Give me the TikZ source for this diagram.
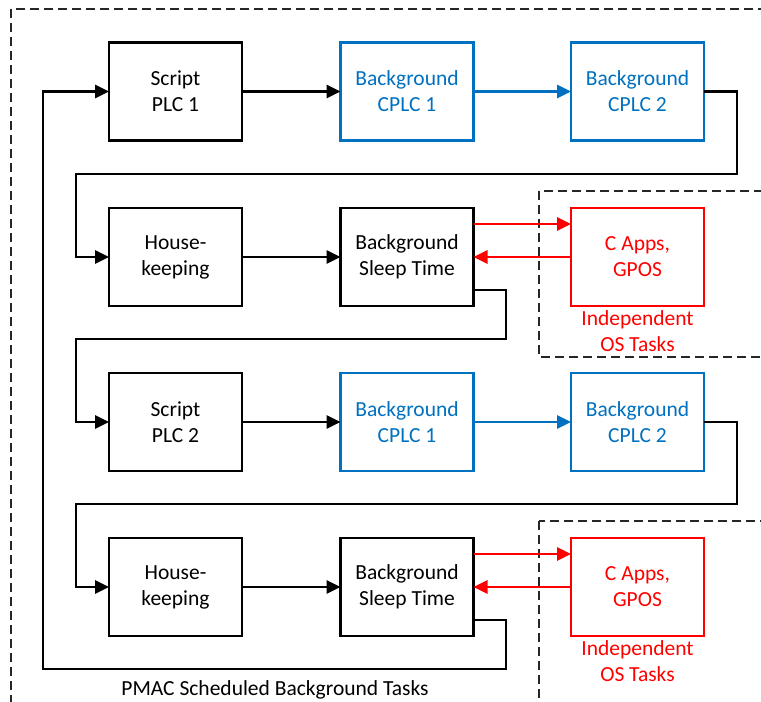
\documentclass[tikz,border=0pt]{standalone}
\usepackage{fontspec}
\setmainfont{Carlito}
\usetikzlibrary{arrows.meta,calc}
\definecolor{cblue}{HTML}{0070C0}
\definecolor{cred}{HTML}{FF0000}
\begin{document}
\begin{tikzpicture}[x=1pt,y=-1pt,
  txt/.style={font=\fontsize{21.5}{26}\selectfont, align=center},
  taskbox/.style={txt, draw, line width=2.7pt, minimum width=133pt, minimum height=98pt, inner sep=0pt, outer sep=0pt},
  bluebox/.style={taskbox, draw=cblue, text=cblue},
  redbox/.style={taskbox, draw=cred, text=cred},
  arr/.style={line width=2.7pt, -{Triangle[length=14pt,width=13pt]}},
  bluearr/.style={arr, draw=cblue},
  redarr/.style={arr, draw=cred},
  frame/.style={line width=1.1pt, dash pattern=on 9pt off 5pt, draw=black!85},
]
\useasboundingbox (0,0) rectangle (761,702);
\begin{scope}
\clip (0,0) rectangle (761,702);
% scheduler frame and OS task frames
\draw[frame] (11,9) rectangle (800,760);
\draw[frame] (539,191) rectangle (800,357);
\draw[frame] (539,521) rectangle (800,760);

% first cycle
\node[taskbox] (s1) at (175.5,91.5) {Script\\PLC 1};
\node[bluebox] (b11) at (407,91.5) {Background\\CPLC 1};
\node[bluebox] (b12) at (637.5,91.5) {Background\\CPLC 2};
\node[taskbox] (h1) at (175.5,257) {House-\\keeping};
\node[taskbox] (st1) at (407,257) {Background\\Sleep Time};
\node[redbox] (c1) at (637.5,257) {C Apps,\\GPOS};
\node[txt, text=cred, anchor=north] (os1) at (637.5,307) {Independent\\OS Tasks};

% second cycle
\node[taskbox] (s2) at (175.5,422) {Script\\PLC 2};
\node[bluebox] (b21) at (407,422) {Background\\CPLC 1};
\node[bluebox] (b22) at (637.5,422) {Background\\CPLC 2};
\node[taskbox] (h2) at (175.5,587) {House-\\keeping};
\node[taskbox] (st2) at (407,587) {Background\\Sleep Time};
\node[redbox] (c2) at (637.5,587) {C Apps,\\GPOS};
\node[txt, text=cred, anchor=north] (os2) at (637.5,637) {Independent\\OS Tasks};

\node[txt, anchor=base] (lbl) at (275,695) {PMAC Scheduled Background Tasks};

% turning points of the wrap-around lines
\coordinate (w1a) at (737,174);
\coordinate (w1b) at (76,174);
\coordinate (w2a) at (506,339);
\coordinate (w2b) at (76,339);
\coordinate (w3a) at (737,504);
\coordinate (w3b) at (76,504);
\coordinate (w4a) at (506,669);
\coordinate (w4b) at (43,669);

% row connectors
\draw[arr] (s1) -- (b11);
\draw[bluearr] (b11) -- (b12);
\draw[arr] (h1) -- (st1);
\draw[arr] (s2) -- (b21);
\draw[bluearr] (b21) -- (b22);
\draw[arr] (h2) -- (st2);

% exchange with the OS tasks
\draw[redarr] ($(st1.east)+(0,-33)$) coordinate (o1) -- (o1 -| c1.west);
\draw[redarr] (c1.west) -- (st1.east);
\draw[redarr] ($(st2.east)+(0,-33)$) coordinate (o2) -- (o2 -| c2.west);
\draw[redarr] (c2.west) -- (st2.east);

% wrap-around lines
\draw[arr] (b12.east) -| (w1a) -- (w1b) |- (h1.west);
\draw[arr] ($(st1.east)+(0,33)$) -| (w2a) -- (w2b) |- (s2.west);
\draw[arr] (b22.east) -| (w3a) -- (w3b) |- (h2.west);
\draw[arr] ($(st2.east)+(0,33)$) -| (w4a) -- (w4b) |- (s1.west);
\end{scope}
\end{tikzpicture}
\end{document}
